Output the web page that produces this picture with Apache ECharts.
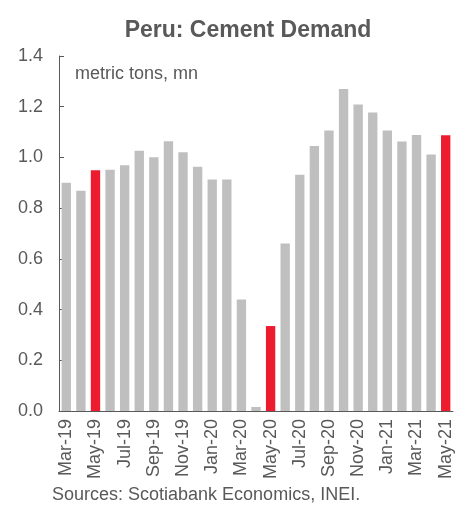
<!DOCTYPE html>
<html>
<head>
<meta charset="utf-8">
<script src="https://cdn.jsdelivr.net/npm/echarts@6/dist/echarts.min.js"></script>
<style>
  html, body { margin: 0; padding: 0; background: #fff; }
  #main { width: 456px; height: 508px; }
</style>
</head>
<body>
<div id="main"></div>
<script>
// months, Mar-19 .. May-21
var months = ['Mar-19', 'Apr-19', 'May-19', 'Jun-19', 'Jul-19', 'Aug-19', 'Sep-19', 'Oct-19', 'Nov-19', 'Dec-19',
    'Jan-20', 'Feb-20', 'Mar-20', 'Apr-20', 'May-20', 'Jun-20', 'Jul-20', 'Aug-20', 'Sep-20', 'Oct-20', 'Nov-20', 'Dec-20',
    'Jan-21', 'Feb-21', 'Mar-21', 'Apr-21', 'May-21'];

// cement demand, metric tons mn
var demand = [0.90, 0.869, 0.949, 0.951, 0.969, 1.026, 1.001, 1.064, 1.020, 0.963,
    0.913, 0.913, 0.44, 0.016, 0.335, 0.661, 0.932, 1.045, 1.106, 1.270, 1.209, 1.177,
    1.106, 1.063, 1.088, 1.012, 1.087];

// months shown in red
var highlight = ['May-19', 'May-20', 'May-21'];

var yTicks = [0, 0.2, 0.4, 0.6, 0.8, 1.0, 1.2, 1.4];

var grey = '#bfbfbf';
var red = '#ed1b2e';
var textColor = '#595959';

var myChart = echarts.init(document.getElementById('main'));

var barData = demand.map(function(v, i) {
    return {
        value: v,
        itemStyle: { color: highlight.indexOf(months[i]) >= 0 ? red : grey }
    };
});

var option = {
    animation: false,
    title: {
        text: 'Peru: Cement Demand',
        left: 243,
        textAlign: 'center',
        top: 14,
        textStyle: {
            fontFamily: 'Liberation Sans',
            fontSize: 23,
            fontWeight: 'bold',
            color: textColor
        }
    },
    grid: {
        left: 59,
        right: 3,
        top: 56,
        bottom: 97
    },
    xAxis: {
        type: 'category',
        data: months,
        axisLine: { lineStyle: { color: textColor, width: 1 } },
        axisTick: { interval: 1, length: 5, lineStyle: { color: textColor } },
        axisLabel: {
            interval: 1,
            rotate: 90,
            margin: 8,
            fontFamily: 'Liberation Sans',
            fontSize: 18,
            color: textColor
        }
    },
    yAxis: {
        type: 'value',
        min: yTicks[0],
        max: yTicks[yTicks.length - 1],
        interval: 0.2,
        splitLine: { show: false },
        axisLine: { show: true, lineStyle: { color: textColor, width: 1 } },
        axisTick: { show: true, inside: true, length: 5, lineStyle: { color: textColor } },
        axisLabel: {
            margin: 16,
            fontFamily: 'Liberation Sans',
            fontSize: 18,
            color: textColor,
            formatter: function(v) {
                return v.toFixed(1);
            }
        }
    },
    graphic: [{
        type: 'text',
        left: 75,
        top: 65,
        style: {
            text: 'metric tons, mn',
            font: '18px "Liberation Sans"',
            fill: textColor
        }
    }, {
        type: 'text',
        left: 52,
        top: 486,
        style: {
            text: 'Sources: Scotiabank Economics, INEI.',
            font: '18px "Liberation Sans"',
            fill: textColor
        }
    }],
    series: [{
        type: 'bar',
        data: barData,
        barCategoryGap: '36%'
    }]
};

myChart.setOption(option);
</script>
</body>
</html>
